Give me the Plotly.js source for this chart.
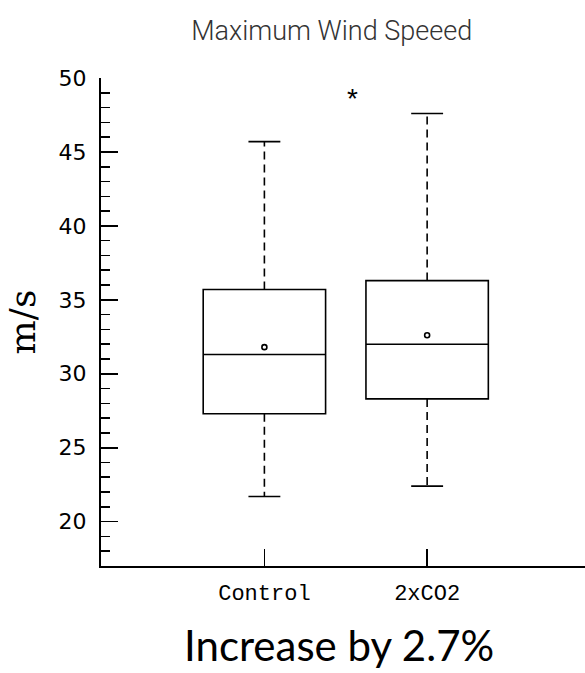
<!DOCTYPE html>
<html>
<head>
<meta charset="utf-8">
<script src="https://cdn.plot.ly/plotly-3.0.1.min.js"></script>
<style>
  html, body { margin: 0; padding: 0; background: #ffffff; }
  #chart { width: 585px; height: 673px; }
</style>
</head>
<body>
<div id="chart"></div>
<script>
// ---- Data ----
const categories = ['Control', '2xCO2'];
const positions = [0, 1];
const lowerWhisker = [21.7, 22.4];
const q1 = [27.3, 28.3];
const median = [31.3, 32.0];
const q3 = [35.7, 36.3];
const upperWhisker = [45.7, 47.6];
const means = [31.8, 32.6];
const yTickVals = [20, 25, 30, 35, 40, 45, 50];
const chartTitle = 'Maximum Wind Speeed';
const yTitle = 'm/s';
const footnote = 'Increase by 2.7%';
const markerText = '*';
const markerPos = { x: 0.54, y: 48.8 };

// ---- Styling ----
const boxWidth = 0.752;
const capHalf = 0.098;
const ink = '#000000';

const traces = [];

// Boxes (quartiles and median) through Plotly's own box trace
traces.push({
  type: 'box',
  x: positions,
  q1: q1,
  median: median,
  q3: q3,
  lowerfence: q1,
  upperfence: q3,
  width: boxWidth,
  whiskerwidth: 0,
  boxpoints: false,
  fillcolor: 'rgba(0,0,0,0)',
  line: { color: ink, width: 1.6 },
  hoverinfo: 'skip',
  showlegend: false
});

// Dashed whiskers
positions.forEach((p, i) => {
  traces.push({
    type: 'scatter', mode: 'lines',
    x: [p, p, null, p, p],
    y: [q3[i], upperWhisker[i], null, q1[i], lowerWhisker[i]],
    line: { color: ink, width: 1.6, dash: '8px,5px' },
    hoverinfo: 'skip', showlegend: false
  });
  // Whisker caps
  traces.push({
    type: 'scatter', mode: 'lines',
    x: [p - capHalf, p + capHalf, null, p - capHalf, p + capHalf],
    y: [upperWhisker[i], upperWhisker[i], null, lowerWhisker[i], lowerWhisker[i]],
    line: { color: ink, width: 1.6 },
    hoverinfo: 'skip', showlegend: false
  });
});

// Means as small open circles
traces.push({
  type: 'scatter', mode: 'markers',
  x: positions, y: means,
  marker: { symbol: 'circle-open', size: 5, color: ink, line: { width: 1.6, color: ink } },
  hoverinfo: 'skip', showlegend: false
});

const layout = {
  width: 585, height: 673,
  margin: { l: 101, r: 0, t: 78, b: 107, pad: 0 },
  paper_bgcolor: '#ffffff', plot_bgcolor: '#ffffff',
  showlegend: false,
  title: {
    text: chartTitle,
    x: 0.567, xanchor: 'center', xref: 'container',
    y: 0.955, yanchor: 'middle', yref: 'container',
    font: { family: 'Roboto, "Liberation Sans", sans-serif', size: 27, color: '#333333', weight: 300 }
  },
  xaxis: {
    range: [-1.004, 1.97],
    tickvals: positions,
    ticktext: categories,
    ticks: 'inside', ticklen: 17, tickwidth: 1.6, tickcolor: ink,
    ticklabelstandoff: 6,
    showline: true, linecolor: ink, linewidth: 2,
    showgrid: false, zeroline: false,
    tickfont: { family: '"Liberation Mono", monospace', size: 22, color: ink },
    fixedrange: true
  },
  yaxis: {
    range: [17, 50],
    tickvals: yTickVals,
    ticks: 'inside', ticklen: 17, tickwidth: 1.6, tickcolor: ink,
    ticklabelstandoff: 8,
    minor: { dtick: 1, tick0: 0, ticks: 'inside', ticklen: 9, tickwidth: 1.6, tickcolor: ink },
    showline: true, linecolor: ink, linewidth: 2,
    showgrid: false, zeroline: false,
    tickfont: { family: '"DejaVu Sans", sans-serif', size: 22, color: ink },
    title: { text: yTitle, standoff: 12, font: { family: '"DejaVu Serif", serif', size: 36, color: ink } },
    fixedrange: true
  },
  annotations: [
    {
      x: markerPos.x, y: markerPos.y, xref: 'x', yref: 'y',
      text: markerText, showarrow: false,
      xanchor: 'center', yanchor: 'middle', yshift: -3,
      font: { family: '"Liberation Sans", Arial, sans-serif', size: 28, color: ink }
    },
    {
      x: 0.492, y: -0.162, xref: 'paper', yref: 'paper',
      text: footnote, showarrow: false,
      xanchor: 'center', yanchor: 'middle',
      font: { family: 'Lato, "Open Sans", sans-serif', size: 42, color: ink }
    }
  ]
};

Plotly.newPlot('chart', traces, layout, { displayModeBar: false, staticPlot: true });
</script>
</body>
</html>
